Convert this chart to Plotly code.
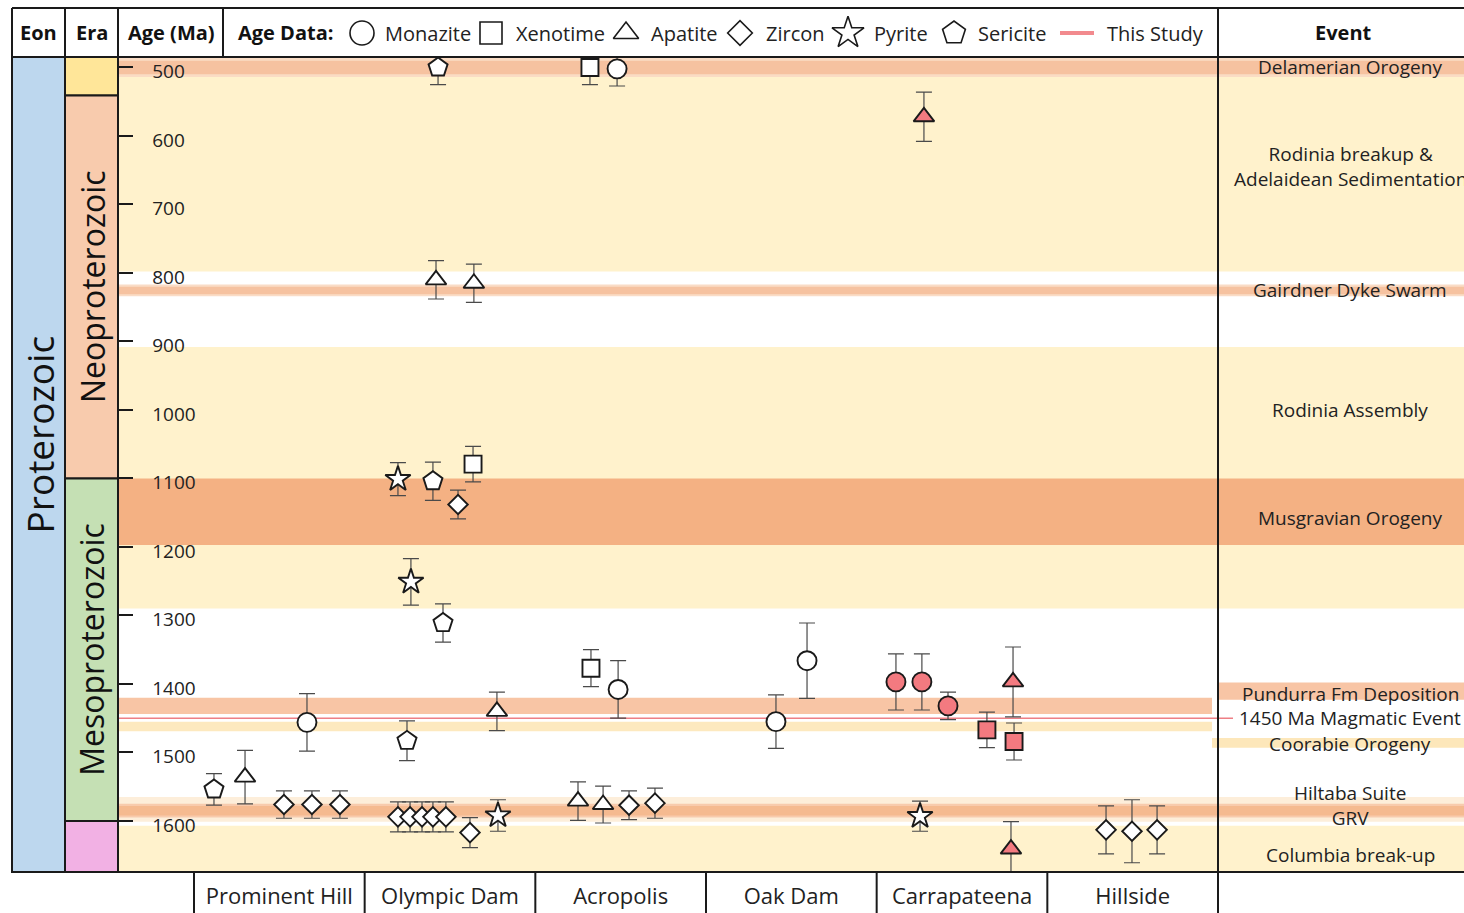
import plotly.graph_objects as go

W, H = 1464, 913

# ---------------------------------------------------------------- data
sites = ["Prominent Hill", "Olympic Dam", "Acropolis", "Oak Dam", "Carrapateena", "Hillside"]
minerals = ["Monazite", "Xenotime", "Apatite", "Zircon", "Pyrite", "Sericite"]

# one entry per dated sample
site_idx = [0] * 6 + [1] * 18 + [2] * 8 + [3] * 2 + [4] * 9 + [5] * 3
mineral = (
    ["Sericite", "Apatite", "Zircon", "Monazite", "Zircon", "Zircon"]
    + ["Sericite", "Apatite", "Apatite", "Pyrite", "Sericite", "Zircon", "Xenotime", "Pyrite",
       "Sericite", "Sericite", "Apatite", "Zircon", "Zircon", "Zircon", "Zircon", "Zircon",
       "Zircon", "Pyrite"]
    + ["Xenotime", "Monazite", "Xenotime", "Monazite", "Apatite", "Apatite", "Zircon", "Zircon"]
    + ["Monazite", "Monazite"]
    + ["Monazite", "Monazite", "Monazite", "Xenotime", "Xenotime", "Apatite", "Pyrite",
       "Apatite", "Apatite"]
    + ["Zircon", "Zircon", "Zircon"]
)
age_ma = (
    [1554, 1536, 1576, 1456, 1576, 1576]
    + [500, 810, 815, 1101, 1104, 1138, 1079, 1251, 1311, 1483, 1440,
       1594, 1594, 1594, 1594, 1594, 1617, 1592]
    + [500, 502, 1377, 1408, 1571, 1576, 1577, 1574]
    + [1455, 1366]
    + [1397, 1397, 1432, 1467, 1484, 1397, 1593, 1641, 572]
    + [1613, 1615, 1613]
)
err_ma = (
    [23, 39, 20, 42, 20, 20]
    + [25, 28, 28, 24, 28, 21, 26, 34, 28, 29, 28, 22, 22, 22, 22, 22, 22, 23]
    + [25, 25, 27, 42, 28, 27, 21, 22]
    + [39, 55]
    + [41, 41, 20, 26, 27, 51, 22, 40, 36]
    + [35, 46, 35]
)
this_study = (
    [0] * 6 + [0] * 18 + [0] * 8 + [0] * 2
    + [1, 1, 1, 1, 1, 1, 0, 1, 1]
    + [0] * 3
)
# column of each sample inside its site block (fraction of block width)
x_slot = (
    [0.117, 0.299, 0.527, 0.662, 0.691, 0.855]
    + [0.43, 0.418, 0.64, 0.195, 0.40, 0.547, 0.635, 0.271, 0.459, 0.248, 0.775,
       0.195, 0.266, 0.336, 0.40, 0.476, 0.617, 0.781]
    + [0.32, 0.479, 0.326, 0.485, 0.25, 0.397, 0.549, 0.701]
    + [0.41, 0.592]
    + [0.113, 0.265, 0.418, 0.646, 0.805, 0.799, 0.254, 0.787, 0.277]
    + [0.344, 0.496, 0.643]
)

age_ticks = [500, 600, 700, 800, 900, 1000, 1100, 1200, 1300, 1400, 1500, 1600]
study_age = 1450

# time scale columns
era_names = ["", "Neoproterozoic", "Mesoproterozoic", ""]
era_start = [None, 541, 1100, 1600]
era_end = [541, 1100, 1600, None]

# events: label and the age it is written at
event_labels = ["Delamerian Orogeny", "Rodinia breakup &<br>Adelaidean Sedimentation",
                "Gairdner Dyke Swarm", "Rodinia Assembly", "Musgravian Orogeny",
                "Pundurra Fm Deposition", "1450 Ma Magmatic Event", "Coorabie Orogeny",
                "Hiltaba Suite<br>GRV", "Columbia break-up"]
event_label_age = [500, 644, 825, 1000, 1158, 1414, 1450, 1488, 1578, 1650]

# ---------------------------------------------------------------- styles
AGE_TOP, AGE_BOT = 484.7, 1674.5
LIGHT = "#FFF2CC"
ORANGE = "#F4B183"
THIN = "#F6C2A0"
RED = "#F37A80"
LINE = "#1a1a1a"
FONT = "Open Sans, Noto Sans, sans-serif"

symbol_of = {"Monazite": "circle", "Xenotime": "square", "Apatite": "triangle-up",
             "Zircon": "diamond", "Pyrite": "star", "Sericite": "pentagon"}
size_of = {"circle": 19, "square": 17, "triangle-up": 18, "diamond": 15,
           "star": 19, "pentagon": 20}


def px(x):
    return x / W


def py(y):
    return 1 - y / H


SITE_L, SITE_R = 194, 1218
SITE_W = (SITE_R - SITE_L) / len(sites)
X_LEFT = -(SITE_L - 118) / SITE_W

fig = go.Figure()

# ---------------------------------------------------------------- samples
for m in minerals:
    for flag in (0, 1):
        idx = [i for i in range(len(age_ma)) if mineral[i] == m and this_study[i] == flag]
        if not idx:
            continue
        sym = symbol_of[m]
        fig.add_trace(go.Scatter(
            x=[site_idx[i] + x_slot[i] for i in idx],
            y=[age_ma[i] for i in idx],
            mode="markers",
            showlegend=False,
            marker=dict(symbol=sym, size=size_of[sym], color=RED if flag else "white",
                        line=dict(color=LINE, width=1.9)),
            error_y=dict(type="data", array=[err_ma[i] for i in idx], visible=True,
                         color="#4a4a4a", thickness=1.2, width=8),
            xaxis="x", yaxis="y",
        ))

# ---------------------------------------------------------------- header legend
leg_sym_x = [362, 491, 626, 740, 848, 954]
leg_text_x = [383, 514, 649, 764, 872, 976]
leg_size = {"circle": 24, "square": 22, "triangle-up": 22, "diamond": 19,
            "star": 24, "pentagon": 24}
for m, sx in zip(minerals, leg_sym_x):
    sym = symbol_of[m]
    fig.add_trace(go.Scatter(
        x=[sx], y=[33], mode="markers", showlegend=False, hoverinfo="skip",
        marker=dict(symbol=sym, size=leg_size[sym], color="white", line=dict(color=LINE, width=1.6)),
        xaxis="x2", yaxis="y2"))
fig.add_trace(go.Scatter(
    x=[1060, 1094], y=[33, 33], mode="lines", showlegend=False, hoverinfo="skip",
    line=dict(color="#F28A8E", width=4), xaxis="x2", yaxis="y2"))

ann = []
for m, tx in zip(minerals, leg_text_x):
    ann.append(dict(x=px(tx), y=py(33), xref="paper", yref="paper", text=m, showarrow=False,
                    xanchor="left", yanchor="middle", font=dict(size=20, color="#222")))
ann.append(dict(x=px(1105), y=py(33), xref="paper", yref="paper", text="This Study",
                showarrow=False, xanchor="left", yanchor="middle", font=dict(size=20, color="#222")))

# header titles
for txt, cx, anchor in [("Eon", 38.5, "center"), ("Era", 91.5, "center"),
                        ("Age (Ma)", 171, "center"), ("Age Data:", 236, "left"),
                        ("Event", 1343, "center")]:
    ann.append(dict(x=px(cx), y=py(32.5), xref="paper", yref="paper", text=f"<b>{txt}</b>",
                    showarrow=False, xanchor=anchor, yanchor="middle",
                    font=dict(size=20, color="#111")))

# ---------------------------------------------------------------- shapes
shapes = []


def band(a0, a1, color, x0=118, x1=W):
    shapes.append(dict(type="rect", xref="paper", yref="y", x0=px(x0), x1=px(x1),
                       y0=a0, y1=a1, fillcolor=color, line=dict(width=0), layer="below"))


# background bands shared by plot area and event column
band(AGE_TOP, 798, LIGHT)
band(908, 1290, LIGHT)
band(1607, AGE_BOT, LIGHT)
band(1565, 1601, "#FDEEDA")
band(486, 514, "#FADCC4")
band(490, 510, THIN)
band(817, 834, "#FADCC6")
band(820, 831, THIN)
band(1100, 1197, ORANGE)
band(1575, 1595, "#F8CBAD")
band(1578, 1592, "#F5BA90")
# plot-area only
band(1420, 1444, "#F8C5A5", 118, 1212)
band(1455, 1469, "#FDE9BF", 118, 1212)
# event column only
band(1398, 1423, "#F8C5A5", 1218, W)
band(1479, 1493, "#FDE7BA", 1212, W)

# this-study reference line
shapes.append(dict(type="line", xref="paper", yref="y", x0=px(118), x1=px(1233),
                   y0=study_age, y1=study_age, line=dict(color="#EE7F85", width=1.5),
                   layer="below"))

# eon column
shapes.append(dict(type="rect", xref="paper", yref="paper", x0=px(12), x1=px(65),
                   y0=py(872), y1=py(57), fillcolor="#BDD7EE", line=dict(color=LINE, width=2)))
# era column
era_colors = ["#FFE699", "#F8CBAD", "#C5E0B4", "#F2B1E4"]
for s, e, c in zip(era_start, era_end, era_colors):
    shapes.append(dict(type="rect", xref="paper", yref="y", x0=px(65), x1=px(118),
                       y0=AGE_TOP if s is None else s, y1=AGE_BOT if e is None else e,
                       fillcolor=c, line=dict(color=LINE, width=2)))


# frame lines
def hline(y, x0=12, x1=W):
    shapes.append(dict(type="line", xref="paper", yref="paper", x0=px(x0), x1=px(x1),
                       y0=py(y), y1=py(y), line=dict(color=LINE, width=2)))


def vline(x, y0, y1):
    shapes.append(dict(type="line", xref="paper", yref="paper", x0=px(x), x1=px(x),
                       y0=py(y0), y1=py(y1), line=dict(color=LINE, width=2)))


hline(8)
hline(57)
hline(872)
vline(12, 8, 872)
vline(65, 8, 872)
vline(118, 8, 872)
vline(223, 8, 57)
vline(1218, 8, H)
# site dividers in the bottom row
for k in range(len(sites) + 1):
    vline(SITE_L + k * SITE_W, 872, H)

# ---------------------------------------------------------------- text
ann.append(dict(x=px(38.5), y=py(435), xref="paper", yref="paper", text="Proterozoic",
                textangle=-90, showarrow=False, xanchor="center", yanchor="middle",
                font=dict(size=37, color="#111")))
for name, s, e in zip(era_names, era_start, era_end):
    if name:
        ann.append(dict(x=px(92), y=(s + e) / 2, xref="paper", yref="y", text=name,
                        textangle=-90, showarrow=False, xanchor="center", yanchor="middle",
                        font=dict(size=32, color="#111")))

for lab, a in zip(event_labels, event_label_age):
    ann.append(dict(x=px(1350), y=a, xref="paper", yref="y", text=lab, showarrow=False,
                    xanchor="center", yanchor="middle", font=dict(size=19, color="#222")))

fig.update_layout(
    width=W, height=H, margin=dict(l=0, r=0, t=0, b=0),
    paper_bgcolor="white", plot_bgcolor="white",
    font=dict(family=FONT, color="#222"),
    shapes=shapes, annotations=ann,
    xaxis=dict(domain=[px(118), px(1218)], range=[X_LEFT, len(sites)], anchor="y",
               tickmode="array", tickvals=[i + 0.5 for i in range(len(sites))], ticktext=sites,
               ticks="", tickfont=dict(size=22, color="#222"), ticklabelstandoff=9,
               showgrid=False, zeroline=False, showline=False, fixedrange=True),
    yaxis=dict(domain=[py(872), py(57)], range=[AGE_BOT, AGE_TOP], anchor="x",
               tickmode="array", tickvals=age_ticks, ticks="inside", ticklen=15, tickwidth=2,
               tickcolor=LINE, ticklabelposition="inside", ticklabelstandoff=20,
               ticklabelshift=-4, tickfont=dict(size=19, color="#222"),
               showgrid=False, zeroline=False, showline=False, fixedrange=True),
    xaxis2=dict(domain=[0, 1], range=[0, W], anchor="y2", visible=False, fixedrange=True),
    yaxis2=dict(domain=[py(57), py(8)], range=[57, 8], anchor="x2", visible=False,
                fixedrange=True),
)

fig.write_html("out.html")
